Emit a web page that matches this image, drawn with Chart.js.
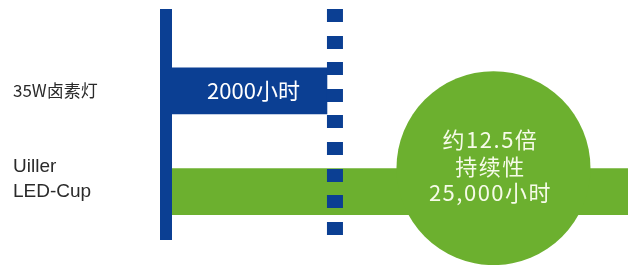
<!DOCTYPE html>
<html>
<head>
<meta charset="utf-8">
<script src="https://cdn.jsdelivr.net/npm/chart.js@4/dist/chart.umd.min.js"></script>
<style>
  html, body { margin: 0; padding: 0; background: #fff; }
  .cv-frame { width: 628px; height: 265px; position: relative; }
</style>
</head>
<body>
<div class="cv-frame">
  <canvas id="chart"></canvas>
</div>
<script>
// categories and lifetimes (hours)
const categories = [['35W卤素灯'], ['Uiller', 'LED-Cup', '']];
const hours = [2000, 25000];
const barLabels = ['2000小时'];
const calloutLines = ['约12.5倍', '持续性', '25,000小时'];

const BLUE = '#0b3f93';
const GREEN = '#6cb02f';

// solid axis on the left, dotted marker at the 2000h mark, circle callout
const decorations = {
  id: 'decorations',
  beforeDatasetsDraw(chart) {
    const ctx = chart.ctx;
    const left = chart.chartArea.left;
    ctx.save();
    ctx.fillStyle = BLUE;
    ctx.fillRect(left - 12, 9, 12, 231);
    ctx.restore();
  },
  afterDatasetsDraw(chart) {
    const ctx = chart.ctx;
    const x = chart.scales.x;
    const area = chart.chartArea;
    const bars = chart.getDatasetMeta(0).data;

    ctx.save();
    // dotted line
    const dx = x.getPixelForValue(hours[0]);
    ctx.fillStyle = BLUE;
    for (let y = 9; y < 238; y += 26.6) {
      ctx.fillRect(dx, Math.round(y), 16, 13);
    }

    // text inside blue bar
    const b = bars[0];
    ctx.fillStyle = '#ffffff';
    ctx.font = '22px "Noto Sans CJK SC"';
    ctx.textAlign = 'center';
    ctx.textBaseline = 'middle';
    ctx.fillText(barLabels[0], (area.left + b.x) / 2 + 4, b.y);

    // circle on green bar
    const g = bars[1];
    const cx = area.left + (g.x - area.left) * 0.705;
    const cy = g.y - 23.5;
    ctx.fillStyle = GREEN;
    ctx.beginPath();
    ctx.arc(cx, cy, 97, 0, Math.PI * 2);
    ctx.fill();

    ctx.fillStyle = '#f6fbe8';
    ctx.font = '22px "Noto Sans CJK SC"';
    ctx.letterSpacing = '1.5px';
    calloutLines.forEach((t, i) => {
      ctx.fillText(t, cx - 3, cy - 28 + i * 26.5);
    });
    ctx.restore();
  }
};

new Chart(document.getElementById('chart'), {
  type: 'bar',
  data: {
    labels: categories,
    datasets: [{
      data: hours,
      backgroundColor: [BLUE, GREEN],
      barThickness: 46,
      borderWidth: 0
    }]
  },
  options: {
    indexAxis: 'y',
    responsive: true,
    maintainAspectRatio: false,
    animation: false,
    layout: { padding: { left: 13, top: 33, bottom: 23, right: 0 } },
    plugins: {
      legend: { display: false },
      tooltip: { enabled: false }
    },
    scales: {
      x: {
        type: 'logarithmic',
        display: false,
        bounds: 'data',
        min: 545,
        max: 25000
      },
      y: {
        grid: { display: false },
        border: { display: false },
        afterFit: (scale) => { scale.width = 159; },
        ticks: {
          crossAlign: 'far',
          color: '#2a2a2a',
          font: (c) => c.index === 0
            ? { family: '"Noto Sans CJK SC"', size: 17 }
            : { family: '"Liberation Sans", Arial, sans-serif', size: 19, lineHeight: '25px' }
        }
      }
    }
  },
  plugins: [decorations]
});
</script>
</body>
</html>
